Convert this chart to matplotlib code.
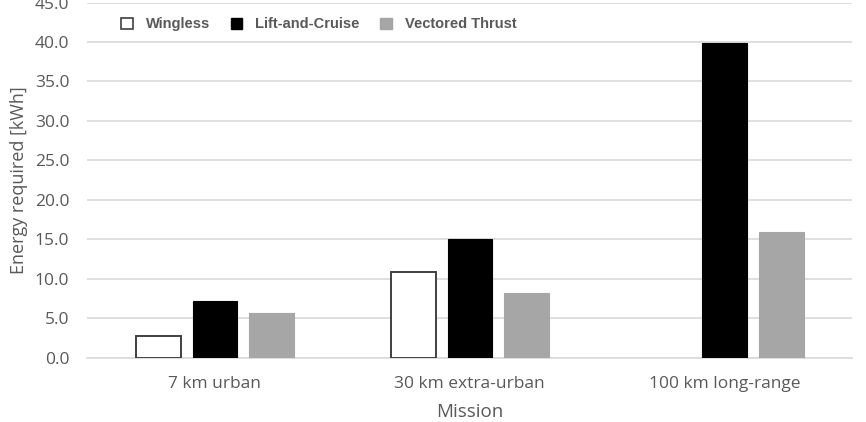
import matplotlib.pyplot as plt
import numpy as np
from matplotlib.patches import Patch

# data
missions = ["7 km urban", "30 km extra-urban", "100 km long-range"]
wingless = [2.8, 10.9, np.nan]
lift_cruise = [7.2, 15.1, 39.9]
vectored = [5.7, 8.2, 15.9]

series_names = ["Wingless", "Lift-and-Cruise", "Vectored Thrust"]
yticks = np.arange(0, 46, 5)

text_col = "#595959"
grid_col = "#d9d9d9"
vt_col = "#a6a6a6"

plt.rcParams["font.family"] = ["Open Sans", "DejaVu Sans"]

fig = plt.figure(figsize=(8.66, 4.22), dpi=100)
ax = fig.add_axes([0.101, 0.152, 0.883, 0.842])

x = np.arange(len(missions))
w = 0.175
step = 0.222
ax.bar(x - step, wingless, w, facecolor="white", edgecolor="#404040", linewidth=1.4, zorder=3)
ax.bar(x, lift_cruise, w, facecolor="black", edgecolor="black", linewidth=0.8, zorder=3)
ax.bar(x + step, vectored, w, facecolor=vt_col, edgecolor=vt_col, linewidth=0.8, zorder=3)

ax.set_xlim(-0.5, 2.5)
ax.set_ylim(0, 45)
ax.set_yticks(yticks)
ax.set_yticklabels([f"{v:.1f}" for v in yticks])
ax.set_xticks(x)
ax.set_xticklabels(missions)
ax.tick_params(axis="both", length=0, colors=text_col, labelsize=12.5)
ax.tick_params(axis="x", pad=13)
ax.tick_params(axis="y", pad=13)
ax.yaxis.grid(True, color=grid_col, linewidth=1.2, zorder=0)
for s in ["top", "right", "left"]:
    ax.spines[s].set_visible(False)
ax.spines["bottom"].set_color(grid_col)
ax.spines["bottom"].set_linewidth(1.2)

ax.set_ylabel("Energy required [kWh]", color=text_col, fontsize=13, labelpad=5)
ax.set_xlabel("Mission", color=text_col, fontsize=13.5, labelpad=8)

handles = [
    Patch(facecolor="white", edgecolor="#404040", linewidth=1.2),
    Patch(facecolor="black", edgecolor="black"),
    Patch(facecolor=vt_col, edgecolor=vt_col),
]
leg = ax.legend(handles, series_names, loc="upper left", bbox_to_anchor=(0.027, 0.995),
                ncol=3, frameon=False, handlelength=0.8, handleheight=0.8,
                handletextpad=0.9, columnspacing=1.4,
                prop={"family": "Liberation Sans", "weight": "bold", "size": 10.5})
for t in leg.get_texts():
    t.set_color(text_col)

fig.savefig("out.png", dpi=100)
